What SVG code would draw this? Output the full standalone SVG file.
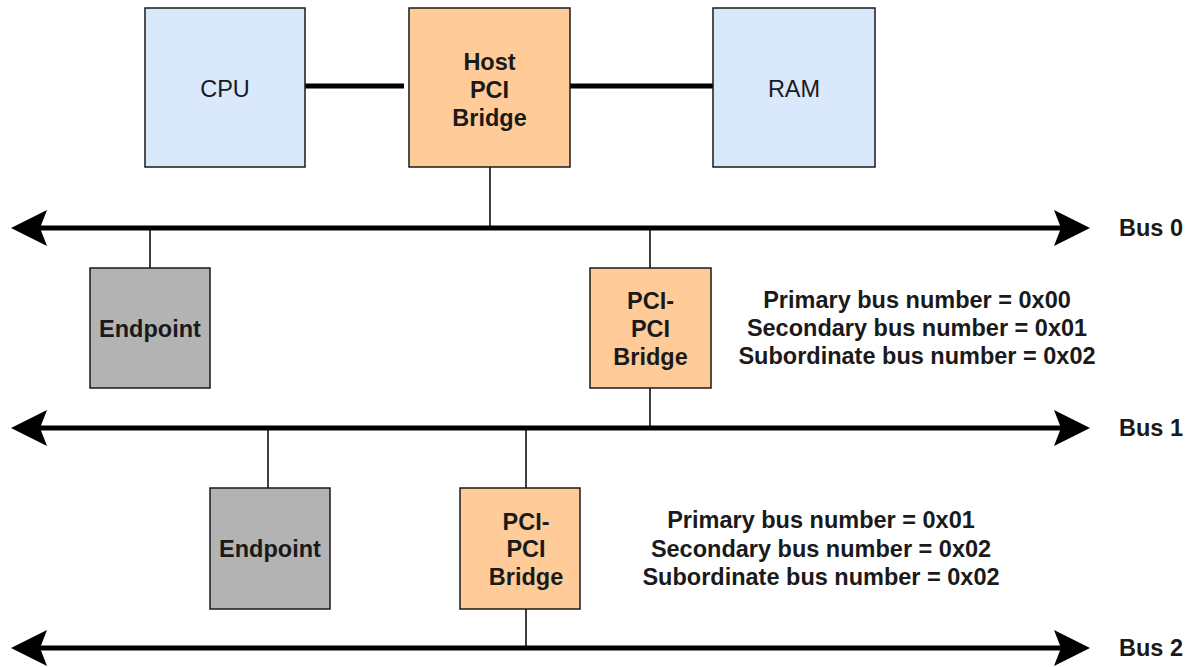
<svg xmlns="http://www.w3.org/2000/svg" width="1192" height="667" viewBox="0 0 1192 667">
  <style>
    .box { stroke: #1a1a1a; stroke-width: 1.5; }
    .cpu { fill: #dae8fc; }
    .bridge { fill: #ffcc99; }
    .endpoint { fill: #b3b3b3; }
    .bus { stroke: #000; stroke-width: 5; fill: none; }
    .link { stroke: #000; stroke-width: 5; fill: none; }
    .tap { stroke: #000; stroke-width: 1.5; fill: none; }
    text { font-family: "Liberation Sans", Arial, Helvetica, sans-serif; font-size: 23.5px; fill: #1a1a1a; text-anchor: middle; }
    .b { font-weight: bold; }
    .lbl { text-anchor: start; }
  </style>
  <defs>
    <marker id="busHead" markerUnits="userSpaceOnUse" markerWidth="36" markerHeight="36" viewBox="0 0 36 36" refX="7" refY="18" orient="auto-start-reverse">
      <path d="M0,0 L36,18 L0,36 L7,18 Z" fill="#000"/>
    </marker>
  </defs>

  <rect width="1192" height="667" fill="#ffffff"/>

  <!-- connectors: buses, links and taps -->
  <g id="connectors">
    <line class="link" x1="305" y1="86" x2="404" y2="86"/>
    <line class="link" x1="570" y1="86" x2="713" y2="86"/>
    <line class="tap" x1="490" y1="167" x2="490" y2="228"/>
    <line class="bus" x1="40" y1="228" x2="1061" y2="228" marker-start="url(#busHead)" marker-end="url(#busHead)"/>
    <line class="tap" x1="150" y1="228" x2="150" y2="268"/>
    <line class="tap" x1="650" y1="228" x2="650" y2="268"/>
    <line class="tap" x1="650" y1="388" x2="650" y2="428"/>
    <line class="bus" x1="40" y1="428" x2="1061" y2="428" marker-start="url(#busHead)" marker-end="url(#busHead)"/>
    <line class="tap" x1="268" y1="428" x2="268" y2="488"/>
    <line class="tap" x1="526" y1="428" x2="526" y2="488"/>
    <line class="tap" x1="526" y1="609" x2="526" y2="648"/>
    <line class="bus" x1="40" y1="648" x2="1061" y2="648" marker-start="url(#busHead)" marker-end="url(#busHead)"/>
  </g>

  <g id="cpu">
    <rect class="box cpu" x="145" y="8" width="160" height="159"/>
    <text x="225" y="97">CPU</text>
  </g>

  <g id="host-bridge">
    <rect class="box bridge" x="409" y="8" width="161" height="159"/>
    <text class="b" x="489.5" y="70">Host</text>
    <text class="b" x="489.5" y="98">PCI</text>
    <text class="b" x="489.5" y="126">Bridge</text>
  </g>

  <g id="ram">
    <rect class="box cpu" x="713" y="8" width="162" height="159"/>
    <text x="794" y="97">RAM</text>
  </g>

  <g id="endpoint-1">
    <rect class="box endpoint" x="90" y="268" width="120" height="120"/>
    <text class="b" x="150" y="337">Endpoint</text>
  </g>

  <g id="pci-bridge-1">
    <rect class="box bridge" x="590" y="268" width="121" height="120"/>
    <text class="b" x="650.5" y="309">PCI-</text>
    <text class="b" x="650.5" y="337">PCI</text>
    <text class="b" x="650.5" y="365">Bridge</text>
  </g>

  <g id="bridge-1-numbers">
    <text class="b" x="917" y="308">Primary bus number = 0x00</text>
    <text class="b" x="917" y="336">Secondary bus number = 0x01</text>
    <text class="b" x="917" y="364">Subordinate bus number = 0x02</text>
  </g>

  <g id="endpoint-2">
    <rect class="box endpoint" x="210" y="488" width="120" height="121"/>
    <text class="b" x="270" y="557">Endpoint</text>
  </g>

  <g id="pci-bridge-2">
    <rect class="box bridge" x="460" y="488" width="120" height="121"/>
    <text class="b" x="526" y="530">PCI-</text>
    <text class="b" x="526" y="557">PCI</text>
    <text class="b" x="526" y="585">Bridge</text>
  </g>

  <g id="bridge-2-numbers">
    <text class="b" x="821" y="528">Primary bus number = 0x01</text>
    <text class="b" x="821" y="557">Secondary bus number = 0x02</text>
    <text class="b" x="821" y="585">Subordinate bus number = 0x02</text>
  </g>

  <g id="bus-labels">
    <text class="b lbl" x="1119" y="236">Bus 0</text>
    <text class="b lbl" x="1119" y="436">Bus 1</text>
    <text class="b lbl" x="1119" y="656">Bus 2</text>
  </g>
</svg>
